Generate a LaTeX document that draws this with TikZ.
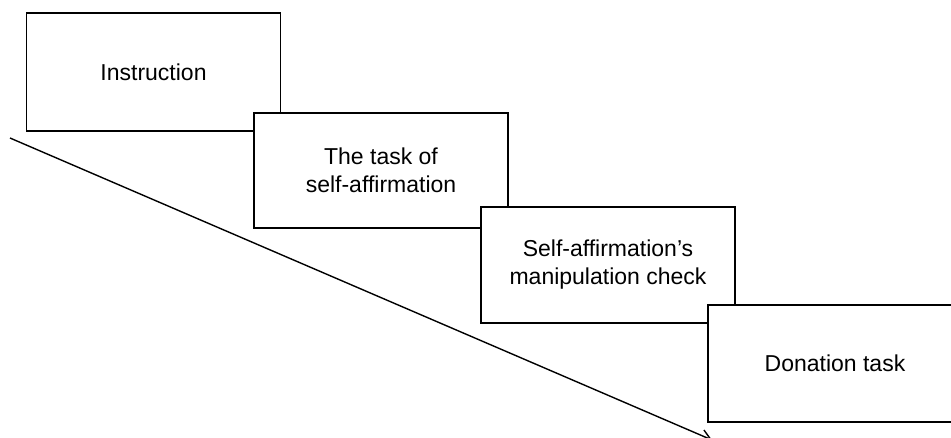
\documentclass[tikz,border=0pt]{standalone}
\usepackage{fontspec}
\setmainfont{Liberation Sans}
\usetikzlibrary{arrows.meta}
\begin{document}
\begin{tikzpicture}[x=1pt,y=1pt,
  stagebox/.style={draw=black,fill=white,line width=1.8pt,rectangle,align=center,
    inner sep=0pt,minimum width=254pt,font=\fontsize{23}{28}\selectfont},
  timeline/.style={line width=1.4pt,-{Straight Barb[length=10pt,width=12pt,line width=1.4pt]}}]
\useasboundingbox (0,0) rectangle (951,-437);
\clip (0,0) rectangle (951,-437);
\coordinate (s) at (10,-138);
\coordinate (e) at (712,-440);
\draw[timeline] (s) -- (e);
\node[stagebox,minimum height=118pt] (n1) at (153.5,-72) {Instruction};
\node[stagebox,minimum height=115pt] (n2) at (381,-170.5) {The task of\\self-affirmation};
\node[stagebox,minimum height=116pt] (n3) at (608,-265) {Self-affirmation’s\\manipulation check};
\node[stagebox,minimum height=117pt] (n4) at (835,-363.5) {Donation task};
\end{tikzpicture}
\end{document}
